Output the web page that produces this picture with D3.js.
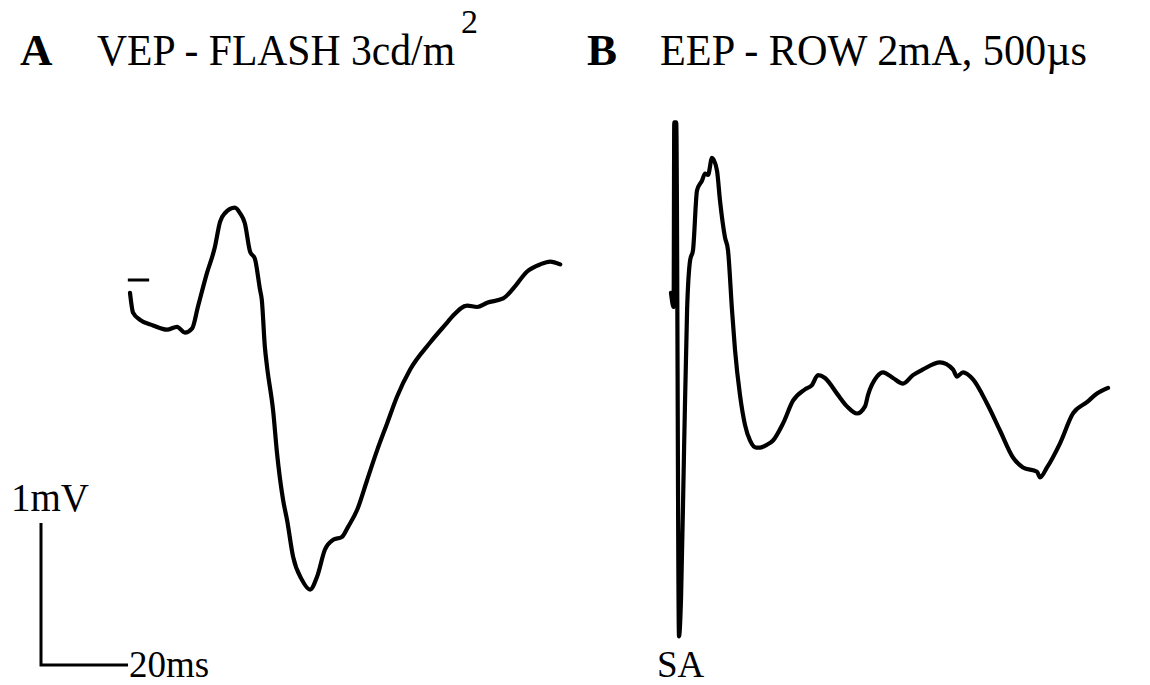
<!DOCTYPE html>
<html>
<head>
<meta charset="utf-8">
<script src="https://cdn.jsdelivr.net/npm/d3@7"></script>
<style>
  html, body { margin: 0; padding: 0; background: #fff; }
  svg { display: block; }
  text { font-family: "Liberation Serif", "Times New Roman", serif; fill: #000; }
</style>
</head>
<body>
<svg id="chart" width="1150" height="685"></svg>
<script>
// ---- Data (time in ms, potential in mV relative to baseline) ----
const vepTime = [0,0.7,2.3,5.3,8.5,10.8,12.6,14.3,15.6,17.7,19.5,20.7,21.8,24.1,25.3,26.4,27.6,28.7,29.9,30.3,31.0,31.5,32.9,33.8,35.2,36.1,37.5,39.5,41.4,43.0,44.8,46.7,48.7,50.1,52.2,54.5,56.8,59.1,61.4,64.4,69.0,72.9,74.3,77.5,79.8,82.1,85.8,88.1,91.3,94.3,96.6,98.9];
const vepValue = [-0.09,-0.23,-0.28,-0.32,-0.35,-0.33,-0.37,-0.34,-0.19,0.05,0.23,0.41,0.47,0.51,0.47,0.40,0.20,0.15,-0.07,-0.14,-0.47,-0.61,-0.92,-1.22,-1.55,-1.69,-1.95,-2.11,-2.18,-2.09,-1.90,-1.83,-1.81,-1.74,-1.62,-1.41,-1.20,-1.01,-0.82,-0.63,-0.44,-0.30,-0.25,-0.18,-0.19,-0.16,-0.13,-0.06,0.06,0.11,0.13,0.11];

const eepTime = [0,0.6,0.75,1.2,1.84,2.3,3.0,3.7,4.4,5.06,5.98,7.13,7.82,8.51,9.43,10.57,11.26,12.41,13.10,14.02,14.71,15.86,17.01,18.16,19.54,20.46,22.07,23.45,25.75,28.05,30.80,32.41,33.79,35.40,38.16,40.46,42.76,44.60,45.29,47.36,48.74,51.03,53.33,55.63,57.93,61.84,64.83,65.75,67.13,69.43,72.64,75.63,78.62,80.92,84.14,84.83,86.44,89.43,92.41,95.63,97.93,100.46];
const eepValue = [-0.09,-0.19,1.11,1.11,-2.51,-2.25,-1.20,-0.21,0.14,0.21,0.63,0.70,0.75,0.74,0.86,0.77,0.56,0.30,0.21,-0.21,-0.49,-0.81,-1.02,-1.13,-1.18,-1.18,-1.16,-1.13,-1.01,-0.85,-0.77,-0.74,-0.67,-0.69,-0.80,-0.89,-0.94,-0.89,-0.81,-0.68,-0.65,-0.69,-0.73,-0.67,-0.63,-0.58,-0.63,-0.68,-0.65,-0.70,-0.87,-1.06,-1.25,-1.32,-1.35,-1.39,-1.32,-1.15,-0.94,-0.86,-0.80,-0.76];

const baselineMark = [[-0.5, 0], [4.4, 0]];   // ms, mV
const scaleBarTime = 20;   // ms
const scaleBarVolt = 1;    // mV
const labels = {
  titleA: "VEP - FLASH 3cd/m", supA: "2",
  titleB: "EEP - ROW 2mA, 500\u00b5s",
  volt: "1mV", time: "20ms", stim: "SA"
};

// ---- Scales ----
const pxPerMs = 87 / 20;
const xA = d3.scaleLinear().domain([0, 20]).range([130, 130 + 20 * pxPerMs]);
const xB = d3.scaleLinear().domain([0, 20]).range([671, 671 + 20 * pxPerMs]);
const y = d3.scaleLinear().domain([0, 1]).range([280, 138]);

const svg = d3.select("#chart");

function traceLine(xs, curve) {
  return d3.line().x(d => xs(d[0])).y(d => y(d[1])).curve(curve || d3.curveLinear);
}

const vepData = vepTime.map((t, i) => [t, vepValue[i]]);
const eepData = eepTime.map((t, i) => [t, eepValue[i]]);

svg.append("path")
  .attr("d", traceLine(xA, d3.curveMonotoneX)(vepData))
  .attr("fill", "none").attr("stroke", "#000")
  .attr("stroke-width", 4.2).attr("stroke-linejoin", "round").attr("stroke-linecap", "round");

svg.append("path")
  .attr("d", traceLine(xB, d3.curveMonotoneX)(eepData))
  .attr("fill", "none").attr("stroke", "#000")
  .attr("stroke-width", 4.2).attr("stroke-linejoin", "round").attr("stroke-linecap", "round");

// baseline marker (panel A)
svg.append("path")
  .attr("d", traceLine(xA)(baselineMark))
  .attr("fill", "none").attr("stroke", "#000").attr("stroke-width", 3);

// scale bar
const sbX = 41, sbY = 665;
const sbW = xA(scaleBarTime) - xA(0);
const sbH = y(0) - y(scaleBarVolt);
svg.append("path")
  .attr("d", `M${sbX},${sbY - sbH}V${sbY}H${sbX + sbW}`)
  .attr("fill", "none").attr("stroke", "#000").attr("stroke-width", 3);

svg.append("text").attr("x", 11).attr("y", 511).attr("font-size", 39).text(labels.volt);
svg.append("text").attr("x", 129).attr("y", 677).attr("font-size", 37).text(labels.time);
svg.append("text").attr("x", 657).attr("y", 677).attr("font-size", 37).text(labels.stim);

// titles
svg.append("text").attr("x", 20).attr("y", 65).attr("font-size", 45).attr("font-weight", "bold").text("A");
const tA = svg.append("text").attr("x", 97).attr("y", 65).attr("font-size", 45);
tA.append("tspan").attr("textLength", 358).attr("lengthAdjust", "spacingAndGlyphs").text(labels.titleA);
tA.append("tspan").attr("x", 461).attr("y", 33).attr("font-size", 34).text(labels.supA);

svg.append("text").attr("x", 587).attr("y", 65).attr("font-size", 45).attr("font-weight", "bold").text("B");
svg.append("text").attr("x", 660).attr("y", 65).attr("font-size", 45)
  .attr("textLength", 427).attr("lengthAdjust", "spacingAndGlyphs").text(labels.titleB);
</script>
</body>
</html>
